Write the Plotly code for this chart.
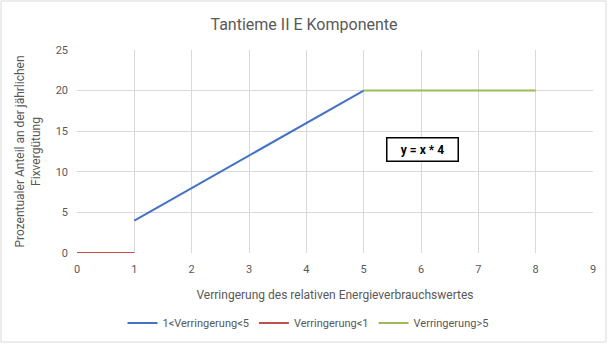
import plotly.graph_objects as go

# Data
blue_x = [1, 5]
blue_y = [4, 20]
red_x = [0, 1]
red_y = [0, 0]
green_x = [5, 8]
green_y = [20, 20]
series_names = ["1<Verringerung<5", "Verringerung<1", "Verringerung>5"]
title = "Tantieme II E Komponente"
x_title = "Verringerung des relativen Energieverbrauchswertes"
y_title = "Prozentualer Anteil an der jährlichen<br>Fixvergütung"
formula = "y = x * 4"

FONT = "Roboto"
GRAY = "#595959"

fig = go.Figure()
fig.add_trace(go.Scatter(x=blue_x, y=blue_y, mode="lines", name=series_names[0],
                         line=dict(color="#4472C4", width=2)))
fig.add_trace(go.Scatter(x=red_x, y=red_y, mode="lines", name=series_names[1],
                         line=dict(color="#C0504D", width=2)))
fig.add_trace(go.Scatter(x=green_x, y=green_y, mode="lines", name=series_names[2],
                         line=dict(color="#9BBB59", width=2)))

W, H = 608, 344
L, R, T, B = 77, 15, 50, 91
pw, ph = W - L - R, H - T - B

fig.update_layout(
    width=W, height=H,
    margin=dict(l=L, r=R, t=T, b=B, autoexpand=False),
    paper_bgcolor="white", plot_bgcolor="white",
    font=dict(family=FONT, color=GRAY, size=11),
    title=dict(text=title, x=0.5, xanchor="center", y=1 - 24 / H, yanchor="middle",
               font=dict(size=16, color=GRAY, family=FONT)),
    xaxis=dict(range=[0, 9], dtick=1, showgrid=True, gridcolor="#d9d9d9", gridwidth=1,
               zeroline=False, showline=False, ticks="", tickfont=dict(size=11, color=GRAY),
               automargin=False, ticklabelstandoff=8,
               title=dict(text=x_title, font=dict(size=12, color=GRAY), standoff=15)),
    yaxis=dict(range=[0, 25], dtick=5, showgrid=True, gridcolor="#d9d9d9", gridwidth=1,
               zeroline=False, showline=False, ticks="", tickfont=dict(size=11, color=GRAY),
               ticklabelstandoff=8, automargin=False,
               title=dict(text=y_title, font=dict(size=12, color=GRAY), standoff=12)),
    legend=dict(orientation="h", x=(308 - L) / pw, xanchor="center", y=(H - B - 323) / ph,
                yanchor="middle", font=dict(size=11, color=GRAY), itemwidth=30,
                tracegroupgap=0),
    showlegend=True,
)

fig.add_annotation(x=6.02, y=12.8, xref="x", yref="y", text="<b>" + formula + "</b>",
                   showarrow=False, font=dict(size=12, color="black", family=FONT),
                   bordercolor="black", borderwidth=1.5, bgcolor="white",
                   width=68, height=20, align="center")

# outer chart border
fig.add_shape(type="rect", xref="paper", yref="paper",
              x0=(1 - L) / pw, x1=(W - 2 - L) / pw,
              y0=(H - B - (H - 2)) / ph, y1=(H - B - 1) / ph,
              line=dict(color="#d9d9d9", width=1), fillcolor="rgba(0,0,0,0)", layer="below")

fig.write_html("out.html")
